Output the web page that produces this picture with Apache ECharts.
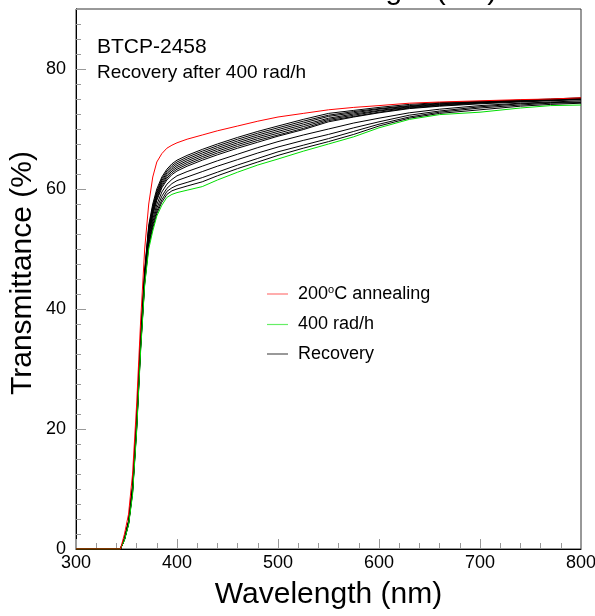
<!DOCTYPE html>
<html>
<head>
<meta charset="utf-8">
<script src="https://cdn.jsdelivr.net/npm/echarts@6/dist/echarts.min.js"></script>
<style>
  html, body { margin: 0; padding: 0; background: #fff; }
  #chart { width: 595px; height: 616px; }
</style>
</head>
<body>
<div id="chart"></div>
<script>
const FONT = "'Liberation Sans', Arial, Helvetica, sans-serif";

const wavelengths = [300, 344, 348, 352, 356, 360, 364, 368, 372, 376, 380, 385, 390, 395, 400,
  410, 425, 440, 460, 480, 500, 525, 550, 575, 600, 630, 660, 700, 740, 770, 800];

// 200 C annealing (red)
const annealed = [0, 0, 2.5, 5.8, 12.5, 24, 38, 50, 57.5, 62, 64.5, 65.9, 66.8, 67.3, 67.7,
  68.3, 69.0, 69.7, 70.5, 71.3, 72.0, 72.6, 73.2, 73.6, 73.9, 74.3, 74.5, 74.7, 74.9, 75.0, 75.2];

// after 400 rad/h (green)
const irradiated = [0, 0, 1.5, 4.0, 9.0, 19.5, 33, 44, 50, 53, 55.5, 57.3, 58.6, 59.1, 59.4,
  59.8, 60.4, 61.5, 62.8, 64.0, 65.0, 66.3, 67.5, 68.7, 70.2, 71.6, 72.4, 72.8, 73.5, 73.9, 74.0];

// recovery steps (black)
const rec0 = [0, 0, 1.5, 4.1, 9.3, 19.8, 33.4, 44.2, 50.5, 53.5, 55.9, 57.8, 59.1, 59.7, 60.0,
  60.5, 61.2, 62.2, 63.4, 64.5, 65.6, 66.8, 67.9, 69.1, 70.5, 71.8, 72.6, 73.2, 73.8, 74.1, 74.3];
const rec1 = [0, 0, 1.6, 4.2, 9.5, 20.0, 33.6, 44.4, 50.8, 54.0, 56.3, 58.2, 59.6, 60.2, 60.6,
  61.1, 61.9, 62.8, 64.0, 65.1, 66.2, 67.3, 68.4, 69.6, 70.8, 72.0, 72.8, 73.5, 74.0, 74.3, 74.4];
const rec2 = [0, 0, 1.6, 4.2, 9.6, 20.2, 33.8, 44.6, 51.2, 54.5, 56.8, 58.8, 60.1, 60.9, 61.4,
  62.0, 62.9, 63.8, 64.9, 66.0, 67.0, 68.1, 69.1, 70.2, 71.2, 72.3, 73.0, 73.7, 74.2, 74.4, 74.5];
const rec3 = [0, 0, 1.6, 4.3, 9.8, 20.4, 34.0, 44.8, 51.6, 55.0, 57.4, 59.5, 60.8, 61.6, 62.2,
  62.9, 63.8, 64.7, 65.8, 66.9, 67.9, 69.0, 70.0, 71.0, 71.8, 72.7, 73.3, 73.9, 74.3, 74.5, 74.7];
const rec4 = [0, 0, 1.7, 4.3, 9.9, 20.6, 34.2, 45.0, 52.1, 55.6, 58.1, 60.2, 61.5, 62.4, 63.0,
  63.8, 64.8, 65.7, 66.8, 67.8, 68.8, 69.9, 71.2, 72.0, 72.7, 73.4, 73.8, 74.2, 74.5, 74.7, 74.9];
const rec5 = [0, 0, 1.7, 4.4, 10.0, 20.8, 34.4, 45.2, 52.4, 55.9, 58.4, 60.5, 61.8, 62.7, 63.3,
  64.1, 65.1, 66.0, 67.1, 68.1, 69.0, 70.1, 71.4, 72.1, 72.8, 73.5, 73.9, 74.3, 74.6, 74.8, 75.0];
const rec6 = [0, 0, 1.7, 4.4, 10.1, 20.9, 34.6, 45.5, 52.7, 56.2, 58.7, 60.8, 62.1, 63.0, 63.6,
  64.4, 65.4, 66.3, 67.4, 68.4, 69.3, 70.4, 71.6, 72.3, 73.0, 73.6, 74.0, 74.4, 74.6, 74.8, 75.0];
const rec7 = [0, 0, 1.7, 4.5, 10.2, 21.0, 34.8, 45.7, 53.0, 56.5, 59.0, 61.1, 62.4, 63.3, 63.9,
  64.7, 65.7, 66.6, 67.7, 68.7, 69.6, 70.7, 71.8, 72.5, 73.1, 73.7, 74.1, 74.4, 74.7, 74.8, 75.0];
const rec8 = [0, 0, 1.8, 4.5, 10.3, 21.2, 35.0, 46.0, 53.3, 56.8, 59.3, 61.4, 62.7, 63.6, 64.2,
  65.0, 66.0, 66.9, 68.0, 69.0, 69.9, 71.0, 72.1, 72.7, 73.3, 73.8, 74.2, 74.5, 74.7, 74.9, 75.1];
const rec9 = [0, 0, 1.8, 4.6, 10.4, 21.3, 35.2, 46.2, 53.6, 57.1, 59.6, 61.7, 63.0, 63.9, 64.5,
  65.3, 66.3, 67.2, 68.3, 69.3, 70.2, 71.3, 72.3, 72.9, 73.4, 73.9, 74.3, 74.5, 74.8, 74.9, 75.1];
const rec10 = [0, 0, 1.8, 4.6, 10.5, 21.5, 35.5, 46.5, 54, 57.5, 60, 62, 63.3, 64.2, 64.8,
  65.6, 66.6, 67.5, 68.6, 69.6, 70.5, 71.6, 72.6, 73.1, 73.6, 74.1, 74.4, 74.6, 74.8, 75.0, 75.2];
const recoveryCurves = [rec0, rec1, rec2, rec3, rec4, rec5, rec6, rec7, rec8, rec9, rec10];

const NAME_ANNEAL = '200°C annealing';
const NAME_IRR = '400 rad/h';
const NAME_REC = 'Recovery';

function pairs(values) {
  return wavelengths.map((w, i) => [w, values[i]]);
}

const series = [];
recoveryCurves.forEach(function (curve) {
  series.push({
    name: NAME_REC, type: 'line', data: pairs(curve), symbol: 'none',
    lineStyle: { color: '#000', width: 1 }, itemStyle: { color: '#555' }
  });
});
series.push({
  name: NAME_IRR, type: 'line', data: pairs(irradiated), symbol: 'none',
  lineStyle: { color: '#00dd00', width: 1 }, itemStyle: { color: '#66ee66' }
});
series.push({
  name: NAME_ANNEAL, type: 'line', data: pairs(annealed), symbol: 'none',
  lineStyle: { color: '#ff0000', width: 1 }, itemStyle: { color: '#ff7777' }
});

const tickColor = '#999';
const chart = echarts.init(document.getElementById('chart'));
chart.setOption({
  animation: false,
  backgroundColor: '#fff',
  textStyle: { fontFamily: FONT },
  grid: {
    left: 76, right: 14, top: 9, bottom: 67,
    containLabel: false, outerBoundsMode: 'none',
    show: true, borderColor: '#333', borderWidth: 1, backgroundColor: 'transparent'
  },
  legend: {
    data: [NAME_ANNEAL, NAME_IRR, NAME_REC],
    orient: 'vertical',
    left: 267,
    top: 284,
    padding: 0,
    icon: 'rect',
    itemWidth: 21,
    itemHeight: 1.2,
    itemGap: 9.5,
    textStyle: {
      fontFamily: FONT, fontSize: 18, color: '#000', lineHeight: 20, padding: [0, 0, 0, 5],
      rich: { sup: { fontSize: 11, verticalAlign: 'top', lineHeight: 11, padding: [0, 0, 10, 0] } }
    },
    formatter: function (name) {
      return name === NAME_ANNEAL ? '200{sup|o}C annealing' : name;
    }
  },
  xAxis: {
    type: 'value', min: 300, max: 800, interval: 100,
    name: 'Wavelength (nm)', nameLocation: 'middle', nameGap: 31, nameMoveOverlap: false,
    nameTextStyle: { fontFamily: FONT, fontSize: 30, color: '#000' },
    axisLine: { lineStyle: { color: '#000', width: 1 } },
    axisTick: { inside: true, length: 10, lineStyle: { color: tickColor } },
    minorTick: { show: true, splitNumber: 5, length: 6, lineStyle: { color: tickColor } },
    axisLabel: { fontFamily: FONT, fontSize: 18, color: '#000', margin: 5 },
    splitLine: { show: false }
  },
  yAxis: [{
    type: 'value', min: 0, max: 90, interval: 20,
    name: 'Transmittance (%)', nameLocation: 'middle', nameGap: 38, nameMoveOverlap: false,
    nameTextStyle: { fontFamily: FONT, fontSize: 30, color: '#000', padding: [0, 0, 0, 12] },
    axisLine: { lineStyle: { color: '#000', width: 1 } },
    axisTick: { inside: true, length: 10, lineStyle: { color: tickColor } },
    axisLabel: { fontFamily: FONT, fontSize: 18, color: '#000', margin: 10, showMaxLabel: false },
    splitLine: { show: false }
  }, {
    type: 'value', min: 0, max: 90, interval: 2.5, position: 'left',
    axisLine: { show: false },
    axisTick: { inside: true, length: 5, lineStyle: { color: tickColor } },
    axisLabel: { show: false },
    splitLine: { show: false }
  }],
  graphic: [
    {
      type: 'text', left: 385 - 115, top: -24, silent: true,
      style: { text: 'Wavelength (nm)', font: '30px ' + FONT, fill: '#000' }
    },
    {
      type: 'text', left: 97, top: 37, silent: true,
      style: { text: 'BTCP-2458', font: '21px ' + FONT, fill: '#000' }
    },
    {
      type: 'text', left: 97, top: 63, silent: true,
      style: { text: 'Recovery after 400 rad/h', font: '19px ' + FONT, fill: '#000' }
    }
  ],
  series: series
});
</script>
</body>
</html>
